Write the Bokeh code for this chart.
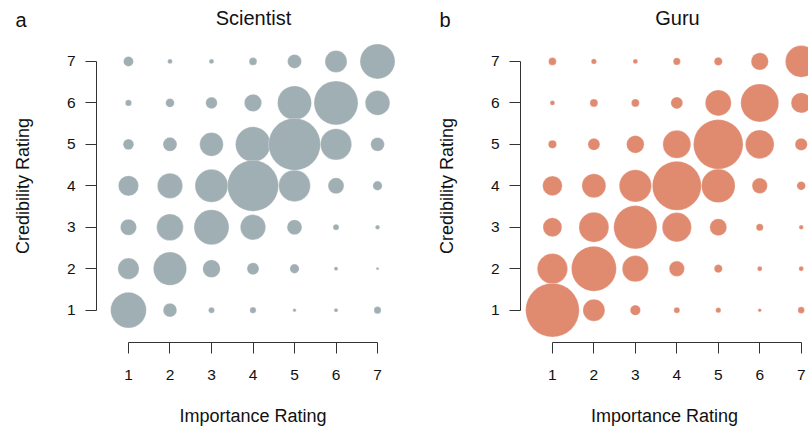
import numpy as np
from bokeh.plotting import figure
from bokeh.layouts import row, column
from bokeh.models import FixedTicker, Label, ColumnDataSource, Range1d
from bokeh.embed import file_html
from bokeh.resources import INLINE

ratings = [1, 2, 3, 4, 5, 6, 7]
tick_labels = ["1", "2", "3", "4", "5", "6", "7"]
panel_titles = ["Scientist", "Guru"]
panel_letters = ["a", "b"]

# rows: credibility rating 1..7 (bottom to top); columns: importance rating 1..7
scientist_counts = [
    [319, 47, 9, 10, 3, 4, 13],
    [113, 277, 78, 36, 22, 4, 2],
    [66, 178, 306, 160, 56, 9, 5],
    [103, 160, 272, 650, 251, 64, 22],
    [29, 49, 140, 306, 676, 245, 47],
    [10, 19, 34, 75, 289, 484, 152],
    [25, 6, 6, 15, 49, 121, 306],
]
guru_counts = [
    [721, 121, 27, 9, 7, 3, 11],
    [230, 506, 173, 59, 17, 6, 6],
    [90, 225, 469, 215, 72, 13, 5],
    [97, 144, 261, 600, 284, 59, 19],
    [17, 36, 78, 196, 617, 206, 38],
    [6, 16, 16, 36, 169, 361, 103],
    [15, 7, 6, 13, 17, 75, 251],
]

FONT = "Liberation Sans"
TEXT = "#111111"
HEADER_H = 29
PANEL_H = 401


def make_panel(counts, color, width, x_end, right_border):
    xs, ys, ns = [], [], []
    for i, cred in enumerate(ratings):
        for j, imp in enumerate(ratings):
            xs.append(imp)
            ys.append(cred)
            ns.append(counts[i][j])
    ns = np.array(ns, dtype=float)
    order = np.argsort(ns)
    src = ColumnDataSource(dict(
        x=np.array(xs)[order], y=np.array(ys)[order],
        size=2.0 * np.sqrt(ns[order]),
    ))
    p = figure(width=width, height=PANEL_H, x_range=(0.23, x_end), y_range=(0.22, 7.77),
               output_backend="svg", toolbar_location=None, title=None,
               min_border_left=96, min_border_right=right_border,
               min_border_top=0, min_border_bottom=88)
    p.scatter("x", "y", size="size", source=src, fill_color=color,
              line_color="white", line_alpha=0.35, line_width=0.8, fill_alpha=1.0)
    p.xgrid.visible = False
    p.ygrid.visible = False
    p.outline_line_color = None
    p.background_fill_color = "white"
    p.border_fill_color = "white"

    for ax in (p.xaxis[0], p.yaxis[0]):
        ax.ticker = FixedTicker(ticks=ratings)
        ax.major_label_overrides = {r: t for r, t in zip(ratings, tick_labels)}
        ax.bounds = (1, 7)
        ax.major_tick_out = 11
        ax.major_tick_in = 0
        ax.minor_tick_line_color = None
        ax.axis_line_color = "#333333"
        ax.major_tick_line_color = "#333333"
        ax.major_label_text_font = FONT
        ax.major_label_text_font_size = "15.5px"
        ax.major_label_text_color = TEXT
        ax.axis_label_text_font = FONT
        ax.axis_label_text_font_size = "18px"
        ax.axis_label_text_font_style = "normal"
        ax.axis_label_text_color = TEXT
    p.xaxis[0].axis_label = "Importance Rating"
    p.yaxis[0].axis_label = "Credibility Rating"
    p.xaxis[0].major_label_standoff = 16
    p.yaxis[0].major_label_standoff = 10
    p.xaxis[0].axis_label_standoff = 23
    p.yaxis[0].axis_label_standoff = 31
    p.yaxis[0].major_label_orientation = "horizontal"
    return p


pa = make_panel(scientist_counts, "#a0afb3", 424, 7.77, 15)
pb = make_panel(guru_counts, "#e08a70", 384, 7.176, 0)

# header strip holding panel letters and titles (pixel coordinates, y downward)
header = figure(width=808, height=HEADER_H, x_range=Range1d(0, 808),
                y_range=Range1d(HEADER_H, 0), output_backend="svg", title=None,
                toolbar_location=None, x_axis_type=None, y_axis_type=None,
                min_border=0)
header.xgrid.visible = False
header.ygrid.visible = False
header.outline_line_color = None
title_centers = [253, 677]
letter_lefts = [15, 439]
for t, cx in zip(panel_titles, title_centers):
    header.add_layout(Label(x=cx, y=17, text=t, text_align="center",
                            text_baseline="middle", text_font=FONT,
                            text_font_size="20px", text_color=TEXT))
for t, lx in zip(panel_letters, letter_lefts):
    header.add_layout(Label(x=lx, y=19, text=t, text_align="left",
                            text_baseline="middle", text_font=FONT,
                            text_font_size="20px", text_color=TEXT))

layout = column(header, row(pa, pb))
open("out.html", "w").write(file_html(layout, INLINE))
